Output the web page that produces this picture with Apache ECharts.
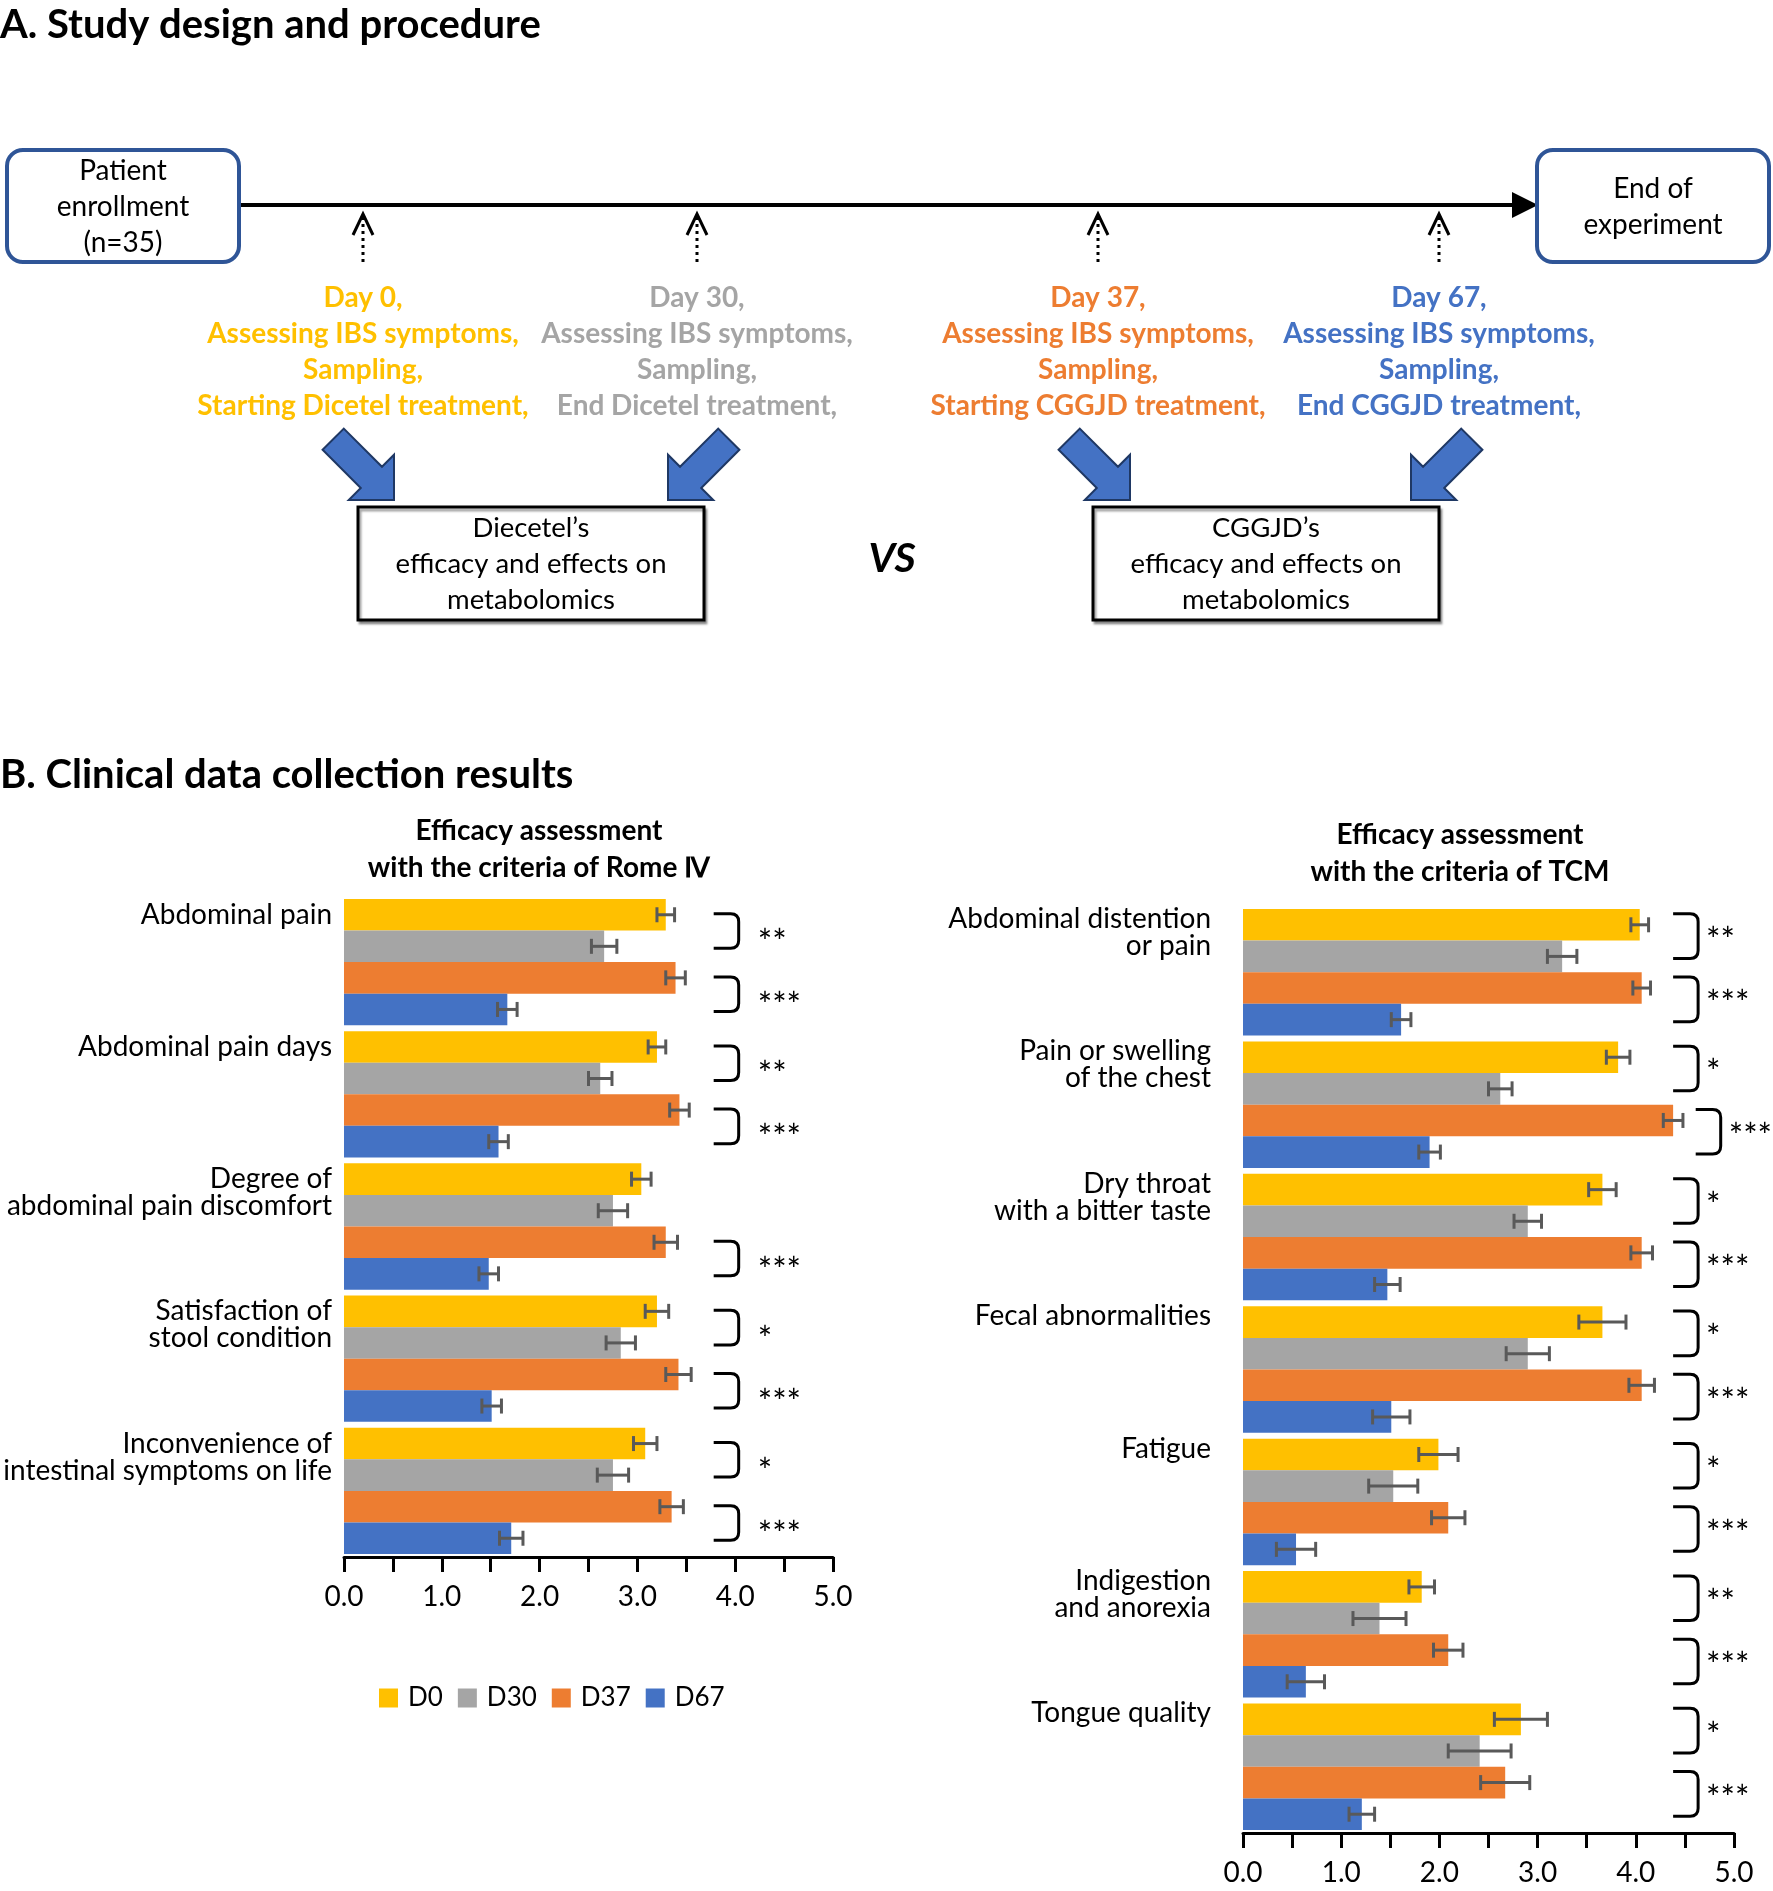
<!DOCTYPE html>
<html><head><meta charset="utf-8">
<script src="https://cdn.jsdelivr.net/npm/echarts/dist/echarts.min.js"></script>
<style>html,body{margin:0;padding:0;background:#fff}#c{width:1773px;height:1891px}</style>
</head><body><div id="c"></div>
<script>
// ---------------- DATA ----------------
const SERIES_NAMES = ['D0', 'D30', 'D37', 'D67'];
const xTickLabels = ['0.0', '1.0', '2.0', '3.0', '4.0', '5.0'];

// Rome IV (left)
const leftCategories = ['Abdominal pain', 'Abdominal pain days', 'Degree of\nabdominal pain discomfort',
  'Satisfaction of\nstool condition', 'Inconvenience of\nintestinal symptoms on life'];
const leftD0 = [3.29, 3.20, 3.04, 3.20, 3.08];
const leftD30 = [2.66, 2.62, 2.75, 2.83, 2.75];
const leftD37 = [3.39, 3.43, 3.29, 3.42, 3.35];
const leftD67 = [1.67, 1.58, 1.48, 1.51, 1.71];
const leftD0Err = [0.09, 0.09, 0.10, 0.12, 0.12];
const leftD30Err = [0.13, 0.12, 0.15, 0.15, 0.16];
const leftD37Err = [0.10, 0.10, 0.12, 0.13, 0.12];
const leftD67Err = [0.10, 0.10, 0.10, 0.10, 0.12];
const leftSigD0D30 = ['**', '**', '', '*', '*'];
const leftSigD37D67 = ['***', '***', '***', '***', '***'];

// TCM (right)
const rightCategories = ['Abdominal distention\nor pain', 'Pain or swelling\nof the chest',
  'Dry throat\nwith a bitter taste', 'Fecal abnormalities', 'Fatigue', 'Indigestion\nand anorexia', 'Tongue quality'];
const rightD0 = [4.04, 3.82, 3.66, 3.66, 1.99, 1.82, 2.83];
const rightD30 = [3.25, 2.62, 2.90, 2.90, 1.53, 1.39, 2.41];
const rightD37 = [4.06, 4.38, 4.06, 4.06, 2.09, 2.09, 2.67];
const rightD67 = [1.61, 1.90, 1.47, 1.51, 0.54, 0.64, 1.21];
const rightD0Err = [0.09, 0.12, 0.14, 0.24, 0.20, 0.13, 0.27];
const rightD30Err = [0.15, 0.12, 0.14, 0.22, 0.25, 0.27, 0.32];
const rightD37Err = [0.09, 0.10, 0.11, 0.13, 0.17, 0.15, 0.25];
const rightD67Err = [0.10, 0.11, 0.13, 0.19, 0.20, 0.19, 0.13];
const rightSigD0D30 = ['**', '*', '*', '*', '*', '**', '*'];
const rightSigD37D67 = ['***', '***', '***', '***', '***', '***', '***'];

// Study design texts
const enrollText = ['Patient', 'enrollment', '(n=35)'];
const endText = ['End of', 'experiment'];
const timepointTexts = [
  ['Day 0,', 'Assessing IBS symptoms,', 'Sampling,', 'Starting Dicetel treatment,'],
  ['Day 30,', 'Assessing IBS symptoms,', 'Sampling,', 'End Dicetel treatment,'],
  ['Day 37,', 'Assessing IBS symptoms,', 'Sampling,', 'Starting CGGJD treatment,'],
  ['Day 67,', 'Assessing IBS symptoms,', 'Sampling,', 'End CGGJD treatment,']
];
const boxTexts = [['Diecetel\u2019s', 'efficacy and effects on', 'metabolomics'],
  ['CGGJD\u2019s', 'efficacy and effects on', 'metabolomics']];
const leftTitle = ['Efficacy assessment', 'with the criteria of Rome \u2163'];
const rightTitle = ['Efficacy assessment', 'with the criteria of TCM'];

// ---------------- STYLE / LAYOUT ----------------
const COLORS = ['#FFC000', '#A5A5A5', '#ED7D31', '#4472C4'];
const FONT = 'Lato, "Open Sans", sans-serif';
const GAP = 0.045;

const grids = [
  {left: 344, top: 896, width: 489, height: 661, labelGap: 12, labelDy: 0, bracketBase: 3.78, starGap: 19, brTop: -1, starDy: 12},
  {left: 1243, top: 906, width: 491, height: 927, labelGap: 32, labelDy: -6, bracketBase: 4.38, starGap: 8, brTop: -11, starDy: 5}
];
const panels = [
  {cats: leftCategories, vals: [leftD0, leftD30, leftD37, leftD67], errs: [leftD0Err, leftD30Err, leftD37Err, leftD67Err], sigs: [leftSigD0D30, leftSigD37D67]},
  {cats: rightCategories, vals: [rightD0, rightD30, rightD37, rightD67], errs: [rightD0Err, rightD30Err, rightD37Err, rightD67Err], sigs: [rightSigD0D30, rightSigD37D67]}
];

function barY(api, c, si) {
  const yc = api.coord([0, c])[1];
  const band = api.size([0, 1])[1];
  const th = band * (1 - GAP) / 4;
  return {y: yc - band * (1 - GAP) / 2 + (si + 0.5) * th, th: th};
}

const xAxes = [], yAxes = [], series = [];
grids.forEach((g, gi) => {
  const P = panels[gi];
  xAxes.push({
    gridIndex: gi, type: 'value', min: 0, max: 5, interval: 1,
    axisLine: {show: true, lineStyle: {color: '#000', width: 3}},
    axisTick: {show: true, length: 15, lineStyle: {color: '#000', width: 3}},
    minorTick: {show: true, splitNumber: 2, length: 15, lineStyle: {color: '#000', width: 3}},
    splitLine: {show: false}, minorSplitLine: {show: false},
    axisLabel: {margin: 26, fontSize: 28, fontFamily: FONT, color: '#000',
      formatter: v => xTickLabels[Math.round(v)]}
  });
  yAxes.push({
    gridIndex: gi, type: 'category', inverse: true, data: P.cats,
    axisLine: {show: false}, axisTick: {show: false}, axisLabel: {show: false}, splitLine: {show: false}
  });
  for (let i = 0; i < 4; i++) {
    series.push({
      type: 'bar', name: SERIES_NAMES[i], xAxisIndex: gi, yAxisIndex: gi, data: P.vals[i],
      itemStyle: {color: COLORS[i]}, barCategoryGap: (GAP * 100) + '%', barGap: '0%', silent: true, z: 2
    });
  }
  // error bars
  const errData = [];
  for (let i = 0; i < 4; i++) P.vals[i].forEach((v, c) => errData.push([v, c, P.errs[i][c], i]));
  series.push({
    type: 'custom', xAxisIndex: gi, yAxisIndex: gi, data: errData, clip: false, silent: true, z: 5,
    encode: {x: 0, y: 1},
    renderItem: (params, api) => {
      const v = api.value(0), c = api.value(1), e = api.value(2), si = api.value(3);
      const y = barY(api, c, si).y;
      const xa = api.coord([v - e, c])[0], xb = api.coord([v + e, c])[0];
      const cap = 7.5, st = {stroke: '#595959', lineWidth: 3};
      return {type: 'group', children: [
        {type: 'line', shape: {x1: xa, y1: y, x2: xb, y2: y}, style: st},
        {type: 'line', shape: {x1: xa, y1: y - cap, x2: xa, y2: y + cap}, style: st},
        {type: 'line', shape: {x1: xb, y1: y - cap, x2: xb, y2: y + cap}, style: st}
      ]};
    }
  });
  // category labels
  series.push({
    type: 'custom', xAxisIndex: gi, yAxisIndex: gi, data: P.cats.map((_, c) => [0, c]), clip: false, silent: true,
    encode: {x: 0, y: 1},
    renderItem: (params, api) => {
      const c = api.value(1);
      const y = barY(api, c, 0).y;
      const x = api.coord([0, c])[0] - g.labelGap;
      const LH = 27;
      return {type: 'text', x: x, y: y - LH / 2 + g.labelDy, style: {
        text: P.cats[c], fill: '#000', fontSize: 28, fontFamily: FONT, lineHeight: LH,
        align: 'right', textAlign: 'right', verticalAlign: 'top', textVerticalAlign: 'top'}};
    }
  });
  // significance brackets
  const brData = [];
  P.sigs.forEach((arr, p) => arr.forEach((s, c) => {
    if (!s) return;
    const top = Math.max(P.vals[2 * p][c] + P.errs[2 * p][c], P.vals[2 * p + 1][c] + P.errs[2 * p + 1][c]);
    brData.push([Math.max(g.bracketBase, top + 0.13), c, p, s.length]);
  }));
  series.push({
    type: 'custom', xAxisIndex: gi, yAxisIndex: gi, data: brData, clip: false, silent: true, z: 5,
    encode: {x: 0, y: 1},
    renderItem: (params, api) => {
      const bx = api.value(0), c = api.value(1), p = api.value(2), n = api.value(3);
      const y0 = barY(api, c, 2 * p).y + g.brTop, y1 = barY(api, c, 2 * p + 1).y + 2;
      const x0 = api.coord([bx, c])[0], x1 = x0 + 25, r = 8;
      const path = `M${x0},${y0} L${x1 - r},${y0} Q${x1},${y0} ${x1},${y0 + r} L${x1},${y1 - r} Q${x1},${y1} ${x1 - r},${y1} L${x0},${y1}`;
      return {type: 'group', children: [
        {type: 'path', shape: {pathData: path}, style: {stroke: '#000', lineWidth: 3, fill: null}},
        {type: 'text', x: x1 + g.starGap, y: (y0 + y1) / 2 + g.starDy, style: {text: '*'.repeat(n), fill: '#000',
          fontSize: 34, fontFamily: FONT, align: 'left', textAlign: 'left', verticalAlign: 'middle', textVerticalAlign: 'middle'}}
      ]};
    }
  });
});

// ---------------- GRAPHIC (part A, headings) ----------------
function txt(x, y, text, opts) {
  return {type: 'text', x: x, y: y, silent: true, style: Object.assign({
    text: text, fill: '#000', fontFamily: FONT, fontSize: 28,
    align: 'center', textAlign: 'center', verticalAlign: 'middle', textVerticalAlign: 'middle', lineHeight: 36
  }, opts || {})};
}
const graphic = [];
graphic.push(txt(0, 25, 'A. Study design and procedure', {fontSize: 40, fontWeight: 'bold', align: 'left', textAlign: 'left'}));
graphic.push(txt(0, 775, 'B. Clinical data collection results', {fontSize: 40, fontWeight: 'bold', align: 'left', textAlign: 'left'}));
// timeline
graphic.push({type: 'line', shape: {x1: 239, y1: 205, x2: 1516, y2: 205}, style: {stroke: '#000', lineWidth: 4}});
graphic.push({type: 'polygon', shape: {points: [[1512, 192], [1538, 205], [1512, 218]]}, style: {fill: '#000'}});
graphic.push({type: 'rect', shape: {x: 7, y: 150, width: 232, height: 112, r: 16}, style: {fill: '#fff', stroke: '#2F5597', lineWidth: 4}});
graphic.push(txt(123, 207, enrollText.join('\n')));
graphic.push({type: 'rect', shape: {x: 1537, y: 150, width: 232, height: 112, r: 16}, style: {fill: '#fff', stroke: '#2F5597', lineWidth: 4}});
graphic.push(txt(1653, 207, endText.join('\n')));
const tpX = [363, 697, 1098, 1439];
tpX.forEach((x, i) => {
  graphic.push({type: 'line', shape: {x1: x, y1: 262, x2: x, y2: 216}, style: {stroke: '#000', lineWidth: 3, lineDash: [3, 4]}});
  graphic.push({type: 'polyline', shape: {points: [[x - 10, 235], [x, 214], [x + 10, 235]]}, style: {stroke: '#000', lineWidth: 3, fill: null}});
  graphic.push(txt(x, 352, timepointTexts[i].join('\n'), {fill: COLORS[i], fontWeight: 'bold'}));
});
// block arrows
function blockArrow(tx, ty, dx) {
  const s2 = Math.SQRT1_2, d = [dx * s2, s2], p = [s2, -dx * s2];
  const L = 32, S = 54, w = 15;
  const pt = (a, b) => [tx + a * d[0] + b * p[0], ty + a * d[1] + b * p[1]];
  return {type: 'polygon', shape: {points: [pt(-(L + S), w), pt(-L, w), pt(-L, L), pt(0, 0), pt(-L, -L), pt(-L, -w), pt(-(L + S), -w)]},
    style: {fill: '#4472C4', stroke: '#1F3864', lineWidth: 2}};
}
graphic.push(blockArrow(394, 500, 1), blockArrow(668, 500, -1), blockArrow(1130, 500, 1), blockArrow(1411, 500, -1));
[[358, 531], [1093, 1266]].forEach((b, i) => {
  graphic.push({type: 'rect', shape: {x: b[0], y: 507, width: 346, height: 113},
    style: {fill: '#fff', stroke: '#000', lineWidth: 3, shadowColor: 'rgba(0,0,0,0.35)', shadowOffsetX: 2, shadowOffsetY: 3, shadowBlur: 2}});
  graphic.push(txt(b[1], 564, boxTexts[i].join('\n'), {fontSize: 27.5}));
});
graphic.push(txt(892, 559, 'VS', {fontSize: 41, fontWeight: 'bold', fontStyle: 'italic'}));
graphic.push(txt(539, 849, leftTitle.join('\n'), {fontSize: 28, fontWeight: 'bold', lineHeight: 37}));
graphic.push(txt(1460, 853, rightTitle.join('\n'), {fontSize: 28, fontWeight: 'bold', lineHeight: 37}));

const chart = echarts.init(document.getElementById('c'));
chart.setOption({
  backgroundColor: '#fff',
  animation: false,
  grid: grids.map(g => ({left: g.left, top: g.top, width: g.width, height: g.height, containLabel: false, outerBoundsMode: 'none'})),
  xAxis: xAxes,
  yAxis: yAxes,
  legend: {data: SERIES_NAMES, left: 379, top: 1685, itemWidth: 19, itemHeight: 19, itemGap: 15, icon: 'rect',
    selectedMode: false, padding: 0, textStyle: {fontSize: 26, fontFamily: FONT, color: '#000', padding: [0, 0, 0, 5]}},
  graphic: graphic,
  series: series
});
</script>
</body></html>
